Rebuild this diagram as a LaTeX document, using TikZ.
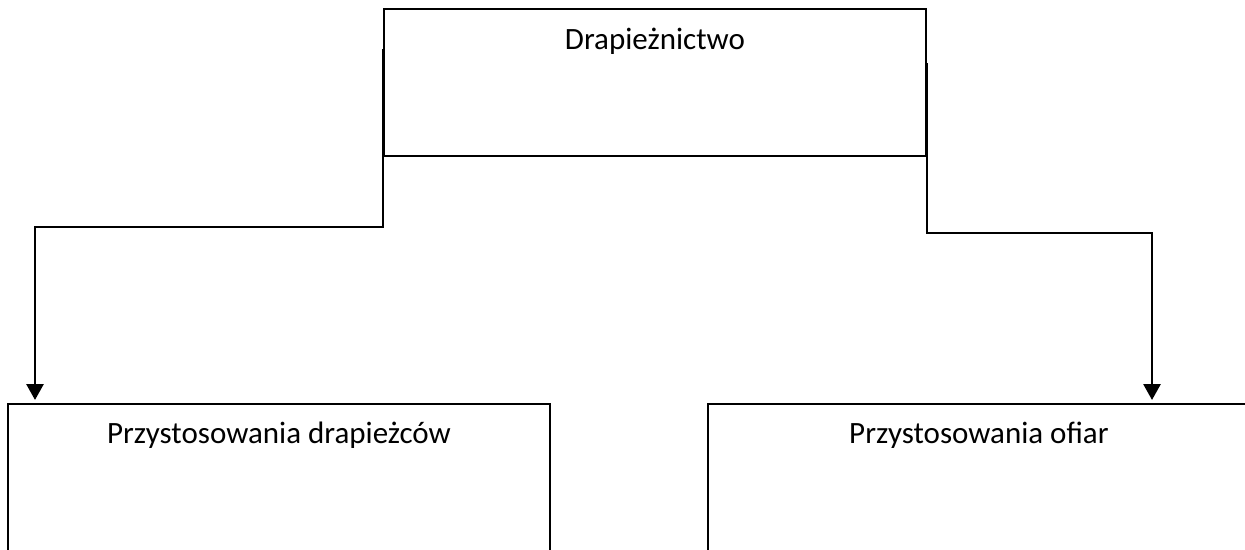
\documentclass[tikz,border=0pt]{standalone}
\usepackage{fontspec}
\setmainfont{Carlito}
\usetikzlibrary{arrows.meta,calc}
\begin{document}
\begin{tikzpicture}[x=1pt,y=-1pt,
  boxshape/.style={draw=black,line width=1.9pt,rectangle,inner sep=0pt,anchor=north west},
  boxtext/.style={anchor=base,inner sep=0pt,font=\fontsize{31pt}{36pt}\selectfont},
  link/.style={line width=2.8pt,-{Triangle[length=16pt,width=17pt]}}]
\useasboundingbox (0,0) rectangle (1245,549);
\clip (0,0) rectangle (1245,549);
\node[boxshape,minimum width=542pt,minimum height=147pt] (top) at (383,8) {};
\node[boxshape,minimum width=542pt,minimum height=300pt] (lbox) at (7,403) {};
\node[boxshape,minimum width=542pt,minimum height=300pt] (rbox) at (707,403) {};
\node[boxtext] (ttop) at ([yshift=-41pt]top.north) {Drapieżnictwo};
\node[boxtext] (tl) at ([yshift=-40pt]lbox.north) {Przystosowania drapieżców};
\node[boxtext] (tr) at ([yshift=-40pt]rbox.north) {Przystosowania ofiar};
\coordinate (s1) at ([yshift=-41pt]top.north west);
\coordinate (s2) at ([yshift=-55pt]top.north east);
\coordinate (e1) at ([xshift=28pt,yshift=3pt]lbox.north west);
\coordinate (e2) at ([xshift=445pt,yshift=3pt]rbox.north west);
\draw[link] (s1) -- (s1 |- 0,227) -- (e1 |- 0,227) -- (e1);
\draw[link] (s2) -- (s2 |- 0,233) -- (e2 |- 0,233) -- (e2);
\end{tikzpicture}
\end{document}
